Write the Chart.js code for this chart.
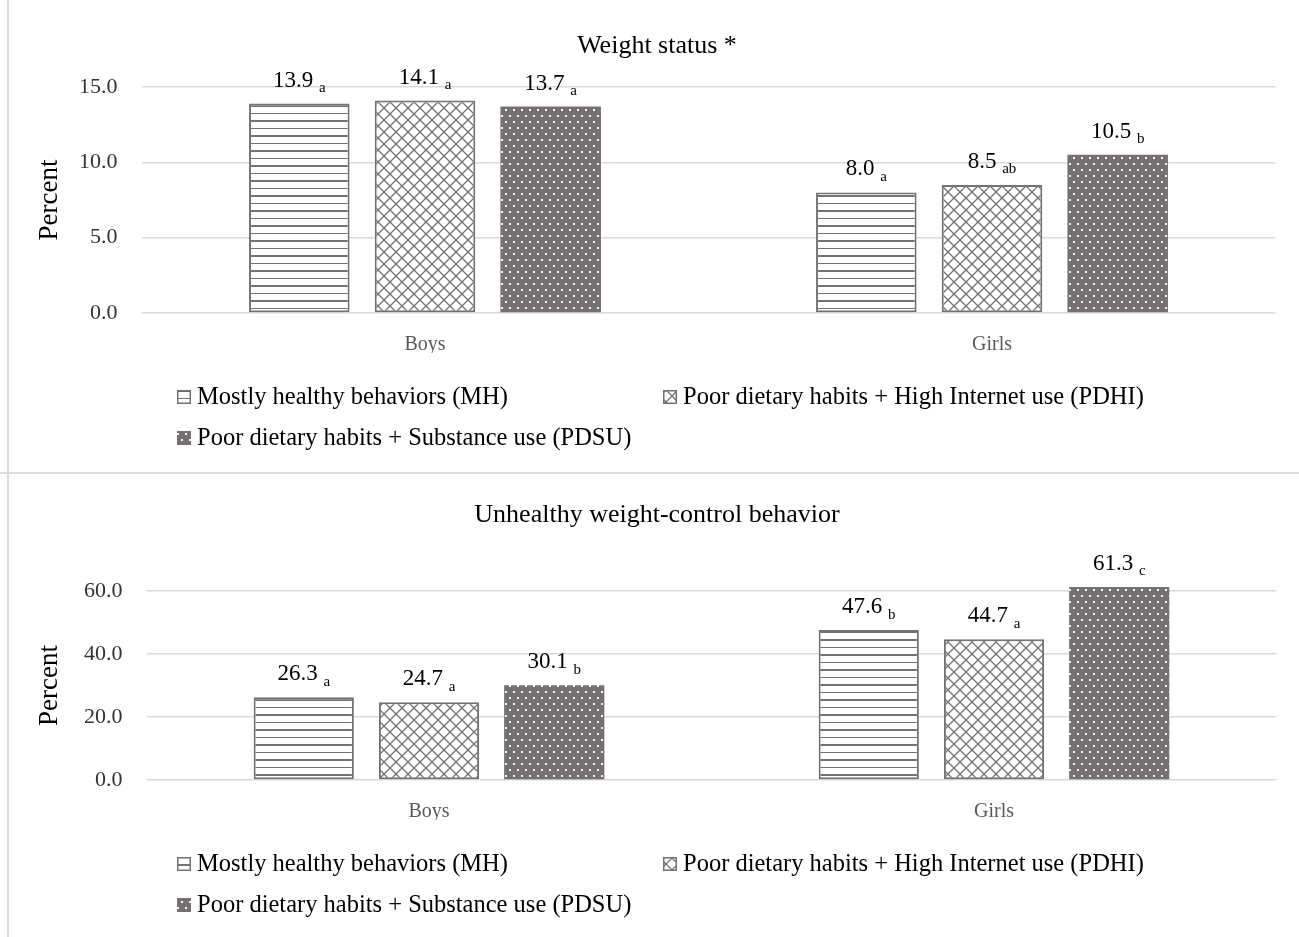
<!DOCTYPE html>
<html>
<head>
<meta charset="utf-8">
<script src="https://cdn.jsdelivr.net/npm/chart.js@4.4.0/dist/chart.umd.min.js"></script>
<style>
    html, body { margin: 0; padding: 0; background: #fff; }
    #page { position: relative; width: 1299px; height: 937px; overflow: hidden; }
    .frame-v { position: absolute; left: 7px; top: 0; width: 2px; height: 937px; background: #dcdcdc; }
    .frame-h { position: absolute; left: 0; top: 472px; width: 1299px; height: 2px; background: #dcdcdc; }
    #weightChart { position: absolute; left: 0; top: 0; }
    #uwcbChart   { position: absolute; left: 0; top: 474px; }
</style>
</head>
<body>
<div id="page">
    <div class="frame-v"></div>
    <div class="frame-h"></div>
    <canvas id="weightChart" width="1299" height="472"></canvas>
    <canvas id="uwcbChart" width="1299" height="463"></canvas>
</div>
<script>
// ─── DONNÉES ──────────────────────────────────────────────────────────────
const categories  = ['Boys', 'Girls'];
const seriesNames = [
    'Mostly healthy behaviors (MH)',
    'Poor dietary habits + High Internet use (PDHI)',
    'Poor dietary habits + Substance use (PDSU)'
];

// Weight status *
const weightMH    = [13.9, 8.0];
const weightPDHI  = [14.1, 8.5];
const weightPDSU  = [13.7, 10.5];
const weightSig   = [['a', 'a'], ['a', 'ab'], ['a', 'b']];
const weightTicks = [0, 5, 10, 15];

// Unhealthy weight-control behavior
const uwcbMH    = [26.3, 47.6];
const uwcbPDHI  = [24.7, 44.7];
const uwcbPDSU  = [30.1, 61.3];
const uwcbSig   = [['a', 'b'], ['a', 'a'], ['b', 'c']];
const uwcbTicks = [0, 20, 40, 60];

// ─── STYLE ────────────────────────────────────────────────────────────────
const FONT = "'Liberation Serif', 'Times New Roman', serif";
const GRAY = '#767171';

function makePattern(kind) {
    const c = document.createElement('canvas');
    const g = c.getContext('2d');
    if (kind === 'lines') {
        c.width = 8; c.height = 15;
        g.fillStyle = '#fff'; g.fillRect(0, 0, 8, 15);
        g.fillStyle = GRAY;
        g.fillRect(0, 0, 8, 2);
        g.fillRect(0, 8, 8, 1);
    } else if (kind === 'cross') {
        c.width = 12; c.height = 12;
        g.fillStyle = '#fff'; g.fillRect(0, 0, 12, 12);
        g.strokeStyle = GRAY; g.lineWidth = 1.3;
        g.beginPath();
        g.moveTo(0, 0); g.lineTo(12, 12);
        g.moveTo(12, 0); g.lineTo(0, 12);
        g.stroke();
    } else {
        c.width = 8; c.height = 12;
        g.fillStyle = GRAY; g.fillRect(0, 0, 8, 12);
        g.fillStyle = '#f4f4f4';
        g.fillRect(1, 1, 2, 2);
        g.fillRect(5, 7, 2, 2);
    }
    return g.createPattern(c, 'repeat');
}

const fills = [makePattern('lines'), makePattern('cross'), makePattern('dots')];

function buildDatasets(series) {
    return series.map((data, i) => ({
        label: seriesNames[i],
        data: data,
        backgroundColor: fills[i],
        borderColor: GRAY,
        borderWidth: i === 2 ? 0 : 2,
        borderSkipped: false,
        barPercentage: 0.8,
        categoryPercentage: 0.665,
        clip: false
    }));
}

// titre, étiquettes avec indices, légende
const decor = {
    id: 'decor',
    afterDatasetsDraw(chart, args, opts) {
        const { ctx, chartArea } = chart;
        ctx.save();

        ctx.fillStyle = '#000';
        ctx.textAlign = 'center';
        ctx.textBaseline = 'alphabetic';
        ctx.font = `26px ${FONT}`;
        ctx.fillText(opts.title, 657, opts.titleBaseline);

        // valeurs + lettres en indice
        ctx.textAlign = 'left';
        chart.data.datasets.forEach((ds, di) => {
            chart.getDatasetMeta(di).data.forEach((bar, i) => {
                const val = ds.data[i].toFixed(1);
                const sub = opts.sig[di][i];
                ctx.font = `23px ${FONT}`;
                const w1 = ctx.measureText(val + ' ').width;
                ctx.font = `15px ${FONT}`;
                const w2 = ctx.measureText(sub).width;
                const x0 = bar.x - (w1 + w2) / 2;
                const base = bar.y - 17;
                ctx.font = `23px ${FONT}`;
                ctx.fillText(val, x0, base);
                ctx.font = `15px ${FONT}`;
                ctx.fillText(sub, x0 + w1, base + 5.5);
            });
        });

        // légende (2 colonnes, alignée à gauche)
        const cols = [177, 663];
        const rows = [chartArea.bottom + 84, chartArea.bottom + 125];
        ctx.textBaseline = 'middle';
        chart.data.datasets.forEach((ds, di) => {
            const x = cols[di % 2];
            const y = rows[Math.floor(di / 2)];
            ctx.fillStyle = ds.backgroundColor;
            ctx.fillRect(x, y - 7, 14, 14);
            if (ds.borderWidth) {
                ctx.strokeStyle = GRAY;
                ctx.lineWidth = 1.5;
                ctx.strokeRect(x + 0.75, y - 6.25, 12.5, 12.5);
            }
            ctx.fillStyle = '#000';
            ctx.font = `24.5px ${FONT}`;
            ctx.fillText(ds.label, x + 20, y + 1);
        });

        ctx.restore();
    }
};

function makeChart(id, series, ticksArr, sig, title, dims) {
    return new Chart(document.getElementById(id), {
        type: 'bar',
        data: { labels: categories, datasets: buildDatasets(series) },
        options: {
            responsive: false,
            animation: false,
            layout: { padding: { left: 0, top: dims.top, right: dims.right, bottom: dims.bottom } },
            scales: {
                x: {
                    grid: { display: false, drawTicks: false },
                    border: { display: false },
                    ticks: { padding: 20, color: '#595959', font: { family: FONT, size: 20 } },
                    afterFit: s => { s.height = 40; }
                },
                y: {
                    min: ticksArr[0],
                    max: ticksArr[ticksArr.length - 1],
                    ticks: {
                        stepSize: ticksArr[1] - ticksArr[0],
                        padding: 24,
                        color: '#333',
                        font: { family: FONT, size: 22 },
                        callback: v => v.toFixed(1)
                    },
                    grid: { color: '#d9d9d9', lineWidth: 1.5, drawTicks: false },
                    border: { display: false },
                    title: {
                        display: true, text: 'Percent', color: '#000',
                        font: { family: FONT, size: 27 },
                        padding: { top: 34, bottom: 0 }
                    },
                    afterFit: s => { s.width = dims.left; }
                }
            },
            plugins: {
                legend: { display: false },
                tooltip: { enabled: false },
                decor: { title: title, titleBaseline: dims.titleBaseline, sig: sig }
            }
        },
        plugins: [decor]
    });
}

makeChart('weightChart', [weightMH, weightPDHI, weightPDSU], weightTicks, weightSig,
    'Weight status *', { left: 141.5, right: 23.5, top: 87, bottom: 119, titleBaseline: 53 });

makeChart('uwcbChart', [uwcbMH, uwcbPDHI, uwcbPDSU], uwcbTicks, uwcbSig,
    'Unhealthy weight-control behavior', { left: 146.5, right: 22.5, top: 117, bottom: 117, titleBaseline: 48 });
</script>
</body>
</html>
